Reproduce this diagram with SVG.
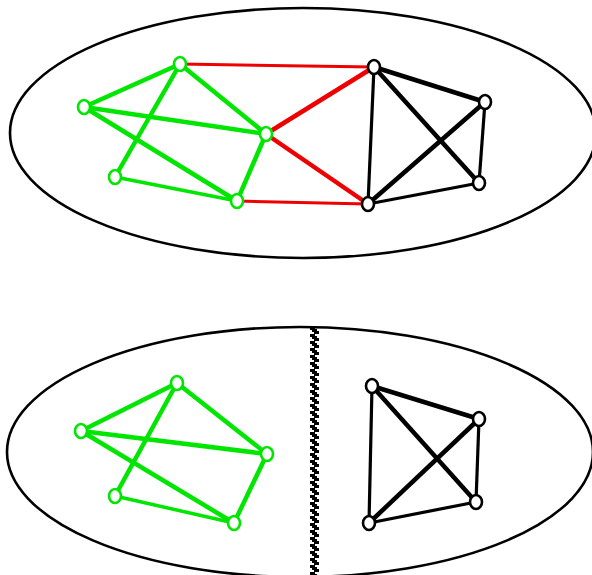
<svg xmlns="http://www.w3.org/2000/svg" width="592" height="575" viewBox="0 0 592 575">
<defs>
<style>
.cont{fill:none;stroke:#000;stroke-width:2.6}
.g{stroke:#00e600;stroke-width:4.5;fill:none;stroke-linecap:round}
.gt{stroke:#00e600;stroke-width:3.5;fill:none}
.r{stroke:#ee0000;stroke-width:4.5;fill:none}
.rt{stroke:#ee0000;stroke-width:3;fill:none}
.k{stroke:#000;stroke-width:4.5;fill:none}
.kt{stroke:#000;stroke-width:3.2;fill:none}
.ng{fill:#fff;stroke:#00e600;stroke-width:2.6}
.nk{fill:#fff;stroke:#000;stroke-width:2.6}
</style>
<pattern id="chk" x="310" y="327" width="9" height="7" patternUnits="userSpaceOnUse">
<rect x="0" y="0" width="5" height="3" fill="#000"/>
<rect x="2" y="2" width="5" height="3" fill="#000"/>
<rect x="4" y="4" width="5" height="3" fill="#000"/>
</pattern>
</defs>
<rect width="592" height="575" fill="#fff"/>
<g id="containers">
<ellipse id="top-ellipse" class="cont" cx="303" cy="133" rx="293" ry="125"/>
<ellipse id="bottom-ellipse" class="cont" cx="300" cy="452" rx="293" ry="125"/>
</g>
<g id="cut">
<rect x="310" y="327" width="9" height="248" fill="url(#chk)"/>
</g>
<g id="connectors">
<line class="rt" x1="180" y1="64" x2="374" y2="67"/>
<line class="r" x1="266" y1="134" x2="374" y2="67"/>
<line class="r" x1="266" y1="134" x2="368" y2="204"/>
<line class="rt" x1="237" y1="201" x2="368" y2="204"/>
<line class="g" x1="180" y1="64" x2="84" y2="107"/>
<line class="g" x1="180" y1="64" x2="266" y2="134"/>
<line class="g" x1="180" y1="64" x2="115" y2="177"/>
<line class="g" x1="84" y1="107" x2="266" y2="134"/>
<line class="g" x1="84" y1="107" x2="237" y2="201"/>
<line class="g" x1="266" y1="134" x2="237" y2="201"/>
<line class="gt" x1="115" y1="177" x2="237" y2="201"/>
<line class="k" x1="374" y1="67" x2="485" y2="102"/>
<line class="k" x1="374" y1="67" x2="479" y2="183"/>
<line class="kt" x1="374" y1="67" x2="368" y2="204"/>
<line class="k" x1="485" y1="102" x2="368" y2="204"/>
<line class="kt" x1="485" y1="102" x2="479" y2="183"/>
<line class="kt" x1="479" y1="183" x2="368" y2="204"/>
<line class="g" x1="177" y1="383" x2="81" y2="431"/>
<line class="g" x1="177" y1="383" x2="267" y2="454"/>
<line class="g" x1="177" y1="383" x2="115" y2="496"/>
<line class="g" x1="81" y1="431" x2="267" y2="454"/>
<line class="g" x1="81" y1="431" x2="234" y2="523"/>
<line class="g" x1="267" y1="454" x2="234" y2="523"/>
<line class="gt" x1="115" y1="496" x2="234" y2="523"/>
<line class="k" x1="372" y1="386" x2="479" y2="419"/>
<line class="k" x1="372" y1="386" x2="476" y2="502"/>
<line class="kt" x1="372" y1="386" x2="369" y2="523"/>
<line class="k" x1="479" y1="419" x2="369" y2="523"/>
<line class="kt" x1="479" y1="419" x2="476" y2="502"/>
<line class="kt" x1="476" y1="502" x2="369" y2="523"/>
</g>
<g id="n-t1"><ellipse class="ng" cx="180" cy="64" rx="6" ry="7"/></g>
<g id="n-t2"><ellipse class="ng" cx="84" cy="107" rx="6" ry="7"/></g>
<g id="n-t3"><ellipse class="ng" cx="266" cy="134" rx="6" ry="7"/></g>
<g id="n-t4"><ellipse class="ng" cx="115" cy="177" rx="6" ry="7"/></g>
<g id="n-t5"><ellipse class="ng" cx="237" cy="201" rx="6" ry="7"/></g>
<g id="n-t6"><ellipse class="nk" cx="374" cy="67" rx="6" ry="7"/></g>
<g id="n-t7"><ellipse class="nk" cx="485" cy="102" rx="6" ry="7"/></g>
<g id="n-t8"><ellipse class="nk" cx="479" cy="183" rx="6" ry="7"/></g>
<g id="n-t9"><ellipse class="nk" cx="368" cy="204" rx="6" ry="7"/></g>
<g id="n-b1"><ellipse class="ng" cx="177" cy="383" rx="6" ry="7"/></g>
<g id="n-b2"><ellipse class="ng" cx="81" cy="431" rx="6" ry="7"/></g>
<g id="n-b3"><ellipse class="ng" cx="267" cy="454" rx="6" ry="7"/></g>
<g id="n-b4"><ellipse class="ng" cx="115" cy="496" rx="6" ry="7"/></g>
<g id="n-b5"><ellipse class="ng" cx="234" cy="523" rx="6" ry="7"/></g>
<g id="n-b6"><ellipse class="nk" cx="372" cy="386" rx="6" ry="7"/></g>
<g id="n-b7"><ellipse class="nk" cx="479" cy="419" rx="6" ry="7"/></g>
<g id="n-b8"><ellipse class="nk" cx="476" cy="502" rx="6" ry="7"/></g>
<g id="n-b9"><ellipse class="nk" cx="369" cy="523" rx="6" ry="7"/></g>
</svg>
